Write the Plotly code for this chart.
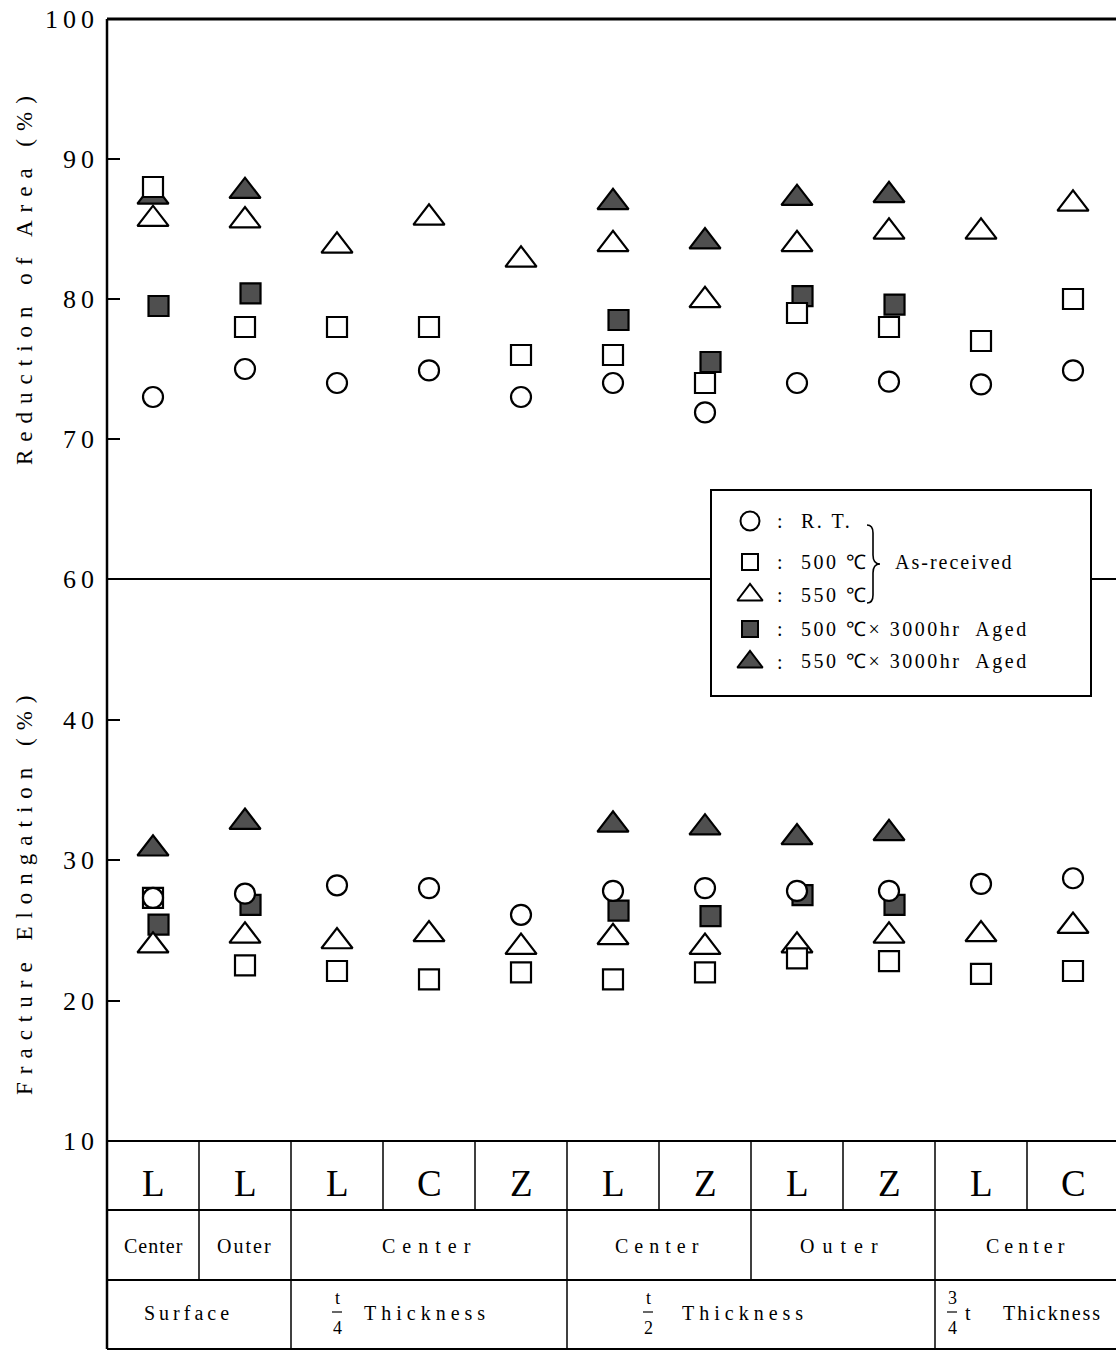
import plotly.graph_objects as go

# ---- data -------------------------------------------------------------
directions = ["L", "L", "L", "C", "Z", "L", "Z", "L", "Z", "L", "C"]

# Reduction of area (%)
ra_rt = [73.0, 75.0, 74.0, 74.9, 73.0, 74.0, 71.9, 74.0, 74.1, 73.9, 74.9]
ra_500 = [88.0, 78.0, 78.0, 78.0, 76.0, 76.0, 74.0, 79.0, 78.0, 77.0, 80.0]
ra_550 = [85.7, 85.6, 83.8, 85.8, 82.8, 83.9, 79.9, 83.9, 84.8, 84.8, 86.8]
ra_500_aged = [79.5, 80.4, None, None, None, 78.5, 75.5, 80.2, 79.6, None, None]
ra_550_aged = [87.3, 87.7, None, None, None, 86.9, 84.1, 87.2, 87.4, None, None]

# Fracture elongation (%)
el_rt = [27.3, 27.6, 28.2, 28.0, 26.1, 27.8, 28.0, 27.8, 27.8, 28.3, 28.7]
el_500 = [27.3, 22.5, 22.1, 21.5, 22.0, 21.5, 22.0, 23.0, 22.8, 21.9, 22.1]
el_550 = [23.9, 24.6, 24.2, 24.7, 23.8, 24.5, 23.8, 23.9, 24.6, 24.7, 25.3]
el_500_aged = [25.4, 26.8, None, None, None, 26.4, 26.0, 27.5, 26.8, None, None]
el_550_aged = [30.8, 32.7, None, None, None, 32.5, 32.3, 31.6, 31.9, None, None]

ra_ticks = [60, 70, 80, 90, 100]
el_ticks = [10, 20, 30, 40]

# location rows of the specimen table: (label, first column, last column)
location_groups = [("Center", 0, 0), ("Outer", 1, 1), ("Center", 2, 4),
                   ("Center", 5, 6), ("Outer", 7, 8), ("Center", 9, 10)]
position_groups = ["Surface", "Thickness", "Thickness", "Thickness"]

legend_labels = ["R. T.", "500 ℃", "550 ℃",
                 "500 ℃× 3000hr\u00a0 Aged", "550 ℃× 3000hr\u00a0 Aged"]
legend_note = "As-received"

# ---- geometry ---------------------------------------------------------
W, H = 1116, 1351
L_M, T_M, B_M = 107, 19, 210
PW, PH = W - L_M, H - T_M - B_M
COL_W = 92.0
SPLIT = (1141 - 579) / PH   # boundary between the two panels


def X(px):
    return (px - L_M) / PW


def Y(py):
    return (H - B_M - py) / PH


SERIF = "Liberation Serif, Times New Roman, serif"
FILL = "#4f4f4f"


def spaced(text, px):
    return f'<span style="letter-spacing:{px}px">{text}</span>'


# drawing order: back to front
series = [
    ("500 ℃ x 3000hr aged", ra_500_aged, el_500_aged, "square", FILL, 20, 0.06),
    ("550 ℃ x 3000hr aged", ra_550_aged, el_550_aged, "triangle-up", FILL, 27, 0.0),
    ("550 ℃", ra_550, el_550, "triangle-up", "white", 27, 0.0),
    ("500 ℃", ra_500, el_500, "square", "white", 20, 0.0),
    ("R. T.", ra_rt, el_rt, "circle", "white", 20, 0.0),
]

fig = go.Figure()
cols = list(range(len(directions)))
for name, ra, el, sym, fill, size, dx in series:
    xs = [c + dx for c in cols]
    mk = dict(symbol=sym, size=size, color=fill, line=dict(color="black", width=2.2))
    fig.add_trace(go.Scatter(x=xs, y=ra, mode="markers", marker=mk, name=name,
                             showlegend=False, xaxis="x", yaxis="y", cliponaxis=False))
    fig.add_trace(go.Scatter(x=xs, y=el, mode="markers", marker=mk, name=name,
                             showlegend=False, xaxis="x", yaxis="y2", cliponaxis=False))

# legend keys on a full-area helper subplot
leg_rows = [521, 562, 595, 629, 662]
leg_keys = [("circle", "white", 19), ("square", "white", 16), ("triangle-up", "white", 22),
            ("square", FILL, 16), ("triangle-up", FILL, 22)]
for (sym, fill, size), py in zip(leg_keys, leg_rows):
    fig.add_trace(go.Scatter(x=[X(750)], y=[Y(py)], mode="markers", showlegend=False,
                             marker=dict(symbol=sym, size=size, color=fill,
                                         line=dict(color="black", width=2)),
                             xaxis="x3", yaxis="y3", hoverinfo="skip"))

shapes = []
line_k = dict(color="black", width=2)
# panel frame
shapes.append(dict(type="line", xref="paper", yref="paper", x0=0, x1=0, y0=Y(1349), y1=1,
                   line=dict(color="black", width=2.5)))
shapes.append(dict(type="line", xref="paper", yref="paper", x0=0, x1=1, y0=1, y1=1,
                   line=dict(color="black", width=3)))
shapes.append(dict(type="line", xref="paper", yref="paper", x0=0, x1=1, y0=SPLIT, y1=SPLIT,
                   line=line_k, layer="below"))
# legend box
shapes.append(dict(type="rect", xref="paper", yref="paper", x0=X(711), x1=X(1091),
                   y0=Y(696), y1=Y(490), fillcolor="white", line=line_k, layer="below"))
# brace grouping the as-received entries
bx, btop, bbot, bmid = 873, 525, 603, 564
pts = [("M", bx - 6, btop), ("Q", bx, btop, bx, btop + 8), ("L", bx, bmid - 9),
       ("Q", bx, bmid, bx + 7, bmid), ("Q", bx, bmid, bx, bmid + 9), ("L", bx, bbot - 8),
       ("Q", bx, bbot, bx - 6, bbot)]
path = ""
for p in pts:
    cmd, vals = p[0], p[1:]
    coords = [f"{X(vals[i]):.5f},{Y(vals[i + 1]):.5f}" for i in range(0, len(vals), 2)]
    path += cmd + " ".join(coords) + " "
shapes.append(dict(type="path", xref="paper", yref="paper", path=path.strip(),
                   line=dict(color="black", width=1.6)))

# specimen table under the plot
for py in [1141, 1210, 1280, 1349]:
    shapes.append(dict(type="line", xref="paper", yref="paper", x0=0, x1=1, y0=Y(py), y1=Y(py),
                       line=line_k))
for k in range(len(directions) - 1):
    shapes.append(dict(type="line", xref="x", yref="paper", x0=k + 0.5, x1=k + 0.5,
                       y0=Y(1210), y1=Y(1141), line=dict(color="black", width=1.5)))
for _, a, b in location_groups[:-1]:
    shapes.append(dict(type="line", xref="x", yref="paper", x0=b + 0.5, x1=b + 0.5,
                       y0=Y(1280), y1=Y(1210), line=dict(color="black", width=1.5)))
for b in [1, 4, 8]:
    shapes.append(dict(type="line", xref="x", yref="paper", x0=b + 0.5, x1=b + 0.5,
                       y0=Y(1349), y1=Y(1280), line=dict(color="black", width=1.5)))
# fraction bars
for cx in [337, 648, 952]:
    shapes.append(dict(type="line", xref="paper", yref="paper", x0=X(cx - 5), x1=X(cx + 5),
                       y0=Y(1312), y1=Y(1312), line=dict(color="black", width=1.2)))

ann = []


def text(x, y, s, size, xref="paper", anchor="center", angle=0, sp=0):
    ann.append(dict(x=x, y=y, xref=xref, yref="paper", text=spaced(s, sp) if sp else s,
                    showarrow=False, xanchor=anchor, yanchor="middle", textangle=angle,
                    font=dict(family=SERIF, size=size, color="black")))


# axis titles
text(X(24), Y(277), "Reduction of Area (%)", 23, angle=-90, sp=8)
text(X(24), Y(891), "Fracture Elongation (%)", 23, angle=-90, sp=8)

# table: direction row
for k, d in enumerate(directions):
    text(k, Y(1183), d, 37, xref="x")
# table: location row
loc_spacing = [1, 2, 7, 6, 8, 5]
for (lab, a, b), sp in zip(location_groups, loc_spacing):
    text((a + b) / 2, Y(1246), lab, 20, xref="x", sp=sp)
# table: position row
text(X(188), Y(1313), position_groups[0], 20, sp=4)
text(X(337), Y(1298), "t", 18)
text(X(337), Y(1328), "4", 18)
text(X(362), Y(1313), position_groups[1], 20, anchor="left", sp=5)
text(X(648), Y(1298), "t", 18)
text(X(648), Y(1328), "2", 18)
text(X(680), Y(1313), position_groups[2], 20, anchor="left", sp=5)
text(X(952), Y(1298), "3", 18)
text(X(952), Y(1328), "4", 18)
text(X(968), Y(1313), "t", 20)
text(X(1001), Y(1313), position_groups[3], 20, anchor="left", sp=2)

# legend texts
for lab, py in zip(legend_labels, leg_rows):
    text(X(780), Y(py), ":", 20)
    text(X(799), Y(py), lab, 20, anchor="left", sp=2.5)
text(X(893), Y(562), legend_note, 20, anchor="left", sp=2)

tickfont = dict(family=SERIF, size=26, color="black")
fig.update_layout(
    width=W, height=H,
    margin=dict(l=L_M, r=0, t=T_M, b=B_M, pad=0),
    paper_bgcolor="white", plot_bgcolor="rgba(0,0,0,0)",
    showlegend=False,
    xaxis=dict(range=[-0.5, -0.5 + PW / COL_W], visible=False, anchor="y2", fixedrange=True),
    yaxis=dict(domain=[SPLIT, 1], range=[60, 100], tickvals=ra_ticks,
               ticktext=[spaced(str(v), 5) for v in ra_ticks], ticks="inside",
               ticklen=13, tickwidth=2, tickcolor="black", showgrid=False, zeroline=False,
               showline=False, tickfont=tickfont, ticklabelstandoff=7, anchor="x"),
    yaxis2=dict(domain=[0, SPLIT], range=[10, 50], tickvals=el_ticks,
                ticktext=[spaced(str(v), 5) for v in el_ticks], ticks="inside",
                ticklen=13, tickwidth=2, tickcolor="black", showgrid=False, zeroline=False,
                showline=False, tickfont=tickfont, ticklabelstandoff=7, anchor="x"),
    xaxis3=dict(domain=[0, 1], range=[0, 1], visible=False, anchor="y3"),
    yaxis3=dict(domain=[0, 1], range=[0, 1], visible=False, anchor="x3"),
    shapes=shapes,
    annotations=ann,
)

fig.write_html("out.html")
